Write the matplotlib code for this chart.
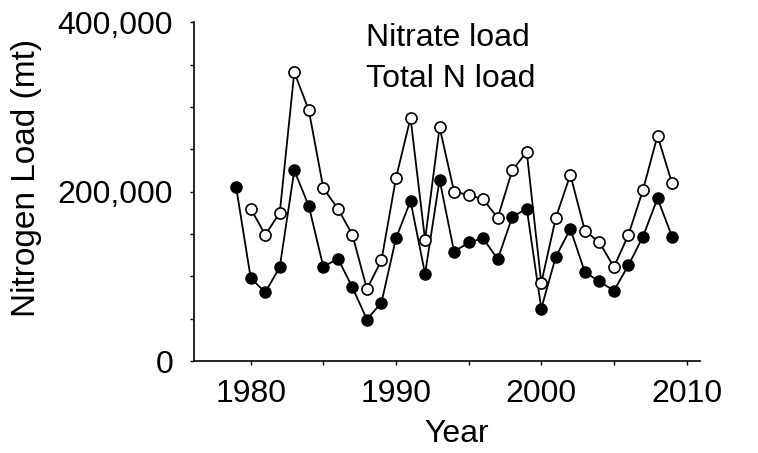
import numpy as np
import matplotlib
matplotlib.use("Agg")
import matplotlib.pyplot as plt
from matplotlib.ticker import FuncFormatter, MultipleLocator

plt.rcParams['font.family'] = ['Liberation Sans', 'DejaVu Sans']

years = np.arange(1979, 2010)
# filled circles (nitrate), 1979-2009
nitrate = [205000, 98000, 81000, 111000, 225000, 183000, 111000, 121000, 87000, 49000,
           69000, 145000, 189000, 103000, 214000, 129000, 140000, 145000, 120000, 170000,
           180000, 62000, 123000, 156000, 105000, 94000, 83000, 113000, 147000, 192000,
           147000]
# open circles (total N), 1980-2009
total_years = np.arange(1980, 2010)
total_n = [180000, 149000, 175000, 341000, 296000, 204000, 180000, 149000, 85000, 119000,
           216000, 287000, 143000, 276000, 200000, 196000, 191000, 169000, 225000, 247000,
           92000, 169000, 220000, 154000, 140000, 111000, 149000, 202000, 266000, 210000]

fig = plt.figure(figsize=(7.58, 4.53), dpi=100)
ax = fig.add_axes([0.256, 0.203, 0.667, 0.748])

ax.plot(years, nitrate, color='black', lw=1.3, marker='o', ms=8,
        mfc='black', mec='black', mew=1.0, zorder=3)
ax.plot(total_years, total_n, color='black', lw=1.3, marker='o', ms=8,
        mfc='white', mec='black', mew=1.2, zorder=4)

ax.set_xlim(1976.1, 2010.9)
ax.set_ylim(0, 400000)
ax.set_xticks(np.arange(1980, 2011, 10))
ax.xaxis.set_minor_locator(MultipleLocator(5))
ax.set_yticks([0, 200000, 400000])
ax.yaxis.set_minor_locator(MultipleLocator(50000))
ax.yaxis.set_major_formatter(FuncFormatter(lambda v, p: f"{int(v):,}"))

for s in ['top', 'right']:
    ax.spines[s].set_visible(False)
for s in ['left', 'bottom']:
    ax.spines[s].set_linewidth(1.2)

ax.tick_params(which='both', direction='out', length=3, width=1, labelsize=23)
ax.tick_params(axis='y', pad=12)
ax.tick_params(axis='x', pad=10)

ax.set_xlabel("Year", fontsize=23)
ax.xaxis.set_label_coords(0.52, -0.17)
ax.set_ylabel("Nitrogen Load (mt)", fontsize=24)
ax.yaxis.set_label_coords(-0.30, 0.54)

ax.text(0.34, 0.93, "Nitrate load", transform=ax.transAxes, fontsize=23)
ax.text(0.34, 0.81, "Total N load", transform=ax.transAxes, fontsize=23)

fig.savefig("out.png", dpi=100)
